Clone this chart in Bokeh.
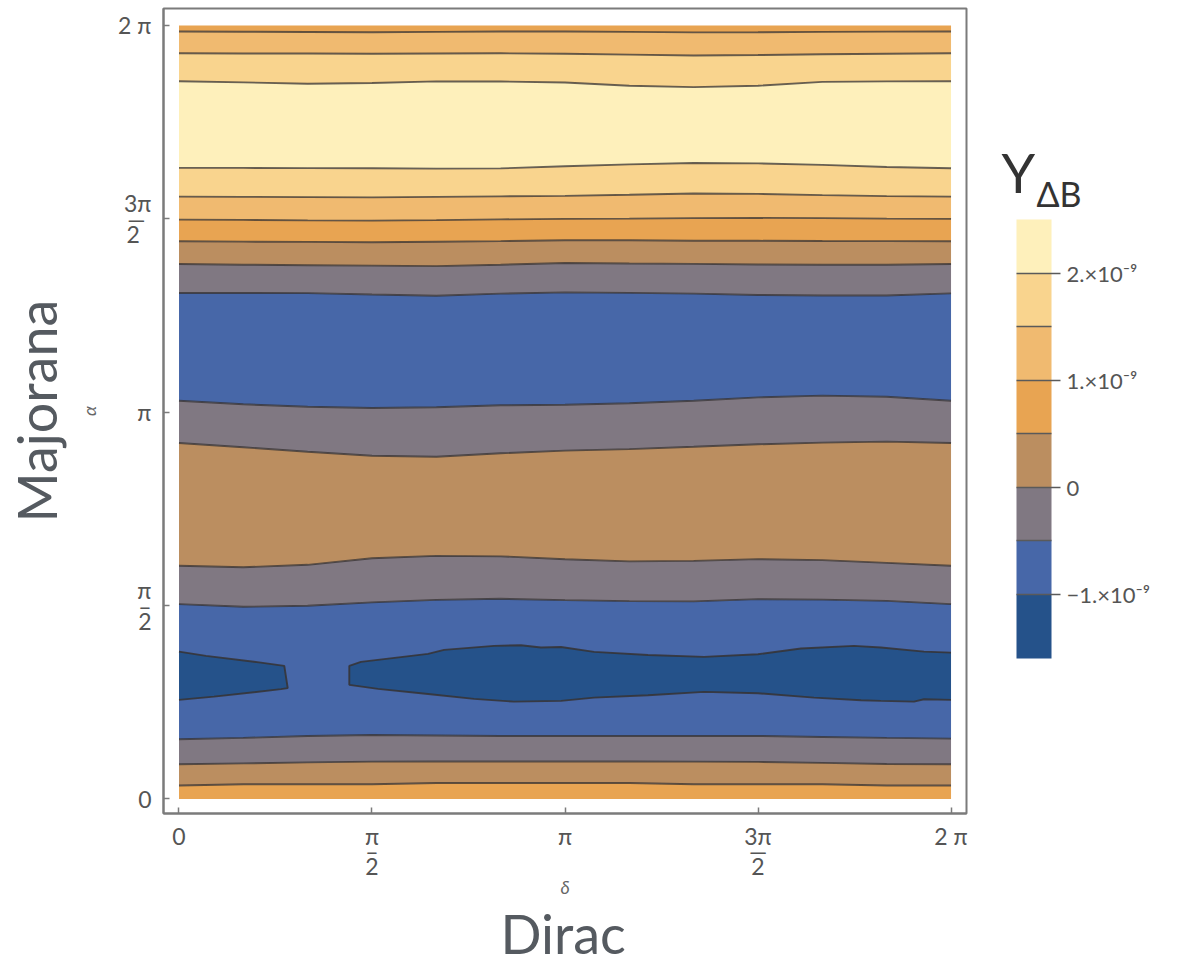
import numpy as np
from bokeh.plotting import figure
from bokeh.models import Range1d, FixedTicker, LinearAxis, ColorBar, LinearColorMapper
from bokeh.embed import file_html
from bokeh.resources import INLINE

PI = np.pi

# ---------------- data ----------------
# Dirac phase delta sample positions (radians)
delta = [k * PI / 6 for k in range(13)]

# contour boundaries alpha(delta) in radians, from bottom to top
c01 = [0.11, 0.12, 0.12, 0.12, 0.13, 0.13, 0.13, 0.13, 0.12, 0.12, 0.12, 0.11, 0.11]
c02 = [0.282, 0.289, 0.297, 0.303, 0.305, 0.305, 0.305, 0.305, 0.303, 0.301, 0.293, 0.284, 0.282]
c03 = [0.485, 0.496, 0.512, 0.520, 0.516, 0.512, 0.512, 0.512, 0.512, 0.512, 0.504, 0.496, 0.490]
c04 = [1.583, 1.561, 1.569, 1.597, 1.617, 1.626, 1.615, 1.607, 1.605, 1.623, 1.619, 1.609, 1.583]
c05 = [1.894, 1.882, 1.902, 1.955, 1.975, 1.971, 1.947, 1.930, 1.934, 1.948, 1.940, 1.918, 1.894]
c06 = [2.891, 2.857, 2.820, 2.788, 2.780, 2.808, 2.830, 2.842, 2.861, 2.881, 2.895, 2.903, 2.891]
c07 = [3.235, 3.206, 3.186, 3.176, 3.182, 3.198, 3.202, 3.215, 3.235, 3.262, 3.276, 3.267, 3.235]
c08 = [4.110, 4.110, 4.109, 4.098, 4.088, 4.105, 4.115, 4.111, 4.105, 4.094, 4.090, 4.090, 4.107]
c09 = [4.346, 4.340, 4.336, 4.332, 4.328, 4.340, 4.354, 4.350, 4.347, 4.342, 4.339, 4.340, 4.346]
c10 = [4.530, 4.527, 4.525, 4.522, 4.526, 4.531, 4.539, 4.538, 4.535, 4.534, 4.532, 4.531, 4.530]
c11 = [4.706, 4.704, 4.700, 4.698, 4.702, 4.708, 4.712, 4.714, 4.718, 4.720, 4.718, 4.714, 4.712]
c12 = [4.893, 4.891, 4.889, 4.887, 4.891, 4.895, 4.899, 4.908, 4.918, 4.915, 4.905, 4.897, 4.893]
c13 = [5.126, 5.126, 5.124, 5.123, 5.120, 5.122, 5.140, 5.155, 5.166, 5.163, 5.151, 5.133, 5.123]
c14 = [5.830, 5.821, 5.810, 5.816, 5.829, 5.828, 5.820, 5.794, 5.782, 5.794, 5.825, 5.829, 5.830]
c15 = [6.058, 6.056, 6.055, 6.053, 6.055, 6.057, 6.053, 6.046, 6.039, 6.043, 6.049, 6.054, 6.058]
c16 = [6.234, 6.232, 6.230, 6.228, 6.231, 6.234, 6.234, 6.231, 6.227, 6.228, 6.231, 6.233, 6.234]

# value (x 1e-9) of each band between successive boundaries, bottom to top
band_values = [0.75, 0.25, -0.25, -0.75, -0.25, 0.25, -0.25, -0.75, -0.25,
               0.25, 0.75, 1.25, 1.75, 2.25, 1.75, 1.25, 0.75]

# islands below -1e-9 (delta, alpha)
island1_delta = [0.0, 0.220, 0.667, 0.857, 0.885, 0.830, 0.285, 0.0]
island1_alpha = [1.197, 1.162, 1.108, 1.081, 0.900, 0.892, 0.831, 0.805]
island2_delta = [6.283, 6.063, 5.713, 5.493, 5.062, 4.712, 4.273, 3.817, 3.378, 3.109,
                 2.946, 2.783, 2.564, 2.157, 2.027, 1.481, 1.386,
                 1.386, 1.620, 2.027, 2.401, 2.726, 3.109, 3.378, 3.817, 4.273, 4.712,
                 5.168, 5.551, 5.713, 5.982, 6.063, 6.283]
island2_alpha = [1.189, 1.197, 1.230, 1.244, 1.222, 1.176, 1.154, 1.170, 1.195, 1.235,
                 1.230, 1.249, 1.244, 1.211, 1.179, 1.114, 1.081,
                 0.927, 0.894, 0.853, 0.813, 0.791, 0.797, 0.823, 0.843, 0.870, 0.859,
                 0.823, 0.802, 0.797, 0.791, 0.810, 0.805]

# colour scale (x 1e-9)
cbar_levels = [-1.6, -1.0, -0.5, 0.0, 0.5, 1.0, 1.5, 2.0, 2.5]
cbar_colors = ["#25528A", "#4767A8", "#807882", "#BB8E60",
               "#E8A452", "#F0BA70", "#F9D48E", "#FEF0BB"]
cbar_ticks = [-1, 0, 1, 2]
cbar_tick_labels = ["\u22121.\u00d710\u207b\u2079", "0", "1.\u00d710\u207b\u2079", "2.\u00d710\u207b\u2079"]
cbar_minor = [-0.5, 0.5, 1.5]

tick_vals = [0, PI / 2, PI, 3 * PI / 2, 2 * PI]
x_tick_labels = ["0", "\u03c0\n\u2013\n2", "\u03c0", "3\u03c0\n\u2014\n2", "2 \u03c0"]
y_tick_labels = ["0", "\u03c0\n\u2013\n2", "\u03c0", "3\u03c0\n\u2014\u00a0\n2\u00a0\u00a0", "2 \u03c0"]

# ---------------- helpers ----------------
def band_color(v):
    for i in range(len(cbar_colors)):
        if cbar_levels[i] <= v < cbar_levels[i + 1]:
            return cbar_colors[i]
    return cbar_colors[-1]

boundaries = [c01, c02, c03, c04, c05, c06, c07, c08, c09, c10, c11, c12, c13, c14, c15, c16]
edges = [[0.0] * len(delta)] + boundaries + [[2 * PI] * len(delta)]

LINE = "#363232"
GREY = "#7b7b7b"
TXT = "#555555"

p = figure(width=1182, height=964,
           x_range=Range1d(-0.126, 6.409), y_range=Range1d(-0.118, 6.421),
           output_backend="svg", toolbar_location=None,
           min_border_left=162, min_border_right=216, min_border_top=8, min_border_bottom=151,
           background_fill_color="white", border_fill_color="white")
p.grid.visible = False
p.outline_line_color = GREY
p.outline_line_width = 2

for i in range(len(edges) - 1):
    p.varea(x=delta, y1=edges[i], y2=edges[i + 1], fill_color=band_color(band_values[i]))

p.patches(xs=[island1_delta, island2_delta], ys=[island1_alpha, island2_alpha],
          fill_color=band_color(-1.3), line_color=None)
p.multi_line(xs=[island1_delta, island2_delta], ys=[island1_alpha, island2_alpha],
             line_color=LINE, line_alpha=0.85, line_width=1.9)
p.multi_line(xs=[delta] * len(boundaries), ys=boundaries,
             line_color=LINE, line_alpha=0.75, line_width=1.9)

# ---------------- axes ----------------
for ax, labels in ((p.xaxis[0], x_tick_labels), (p.yaxis[0], y_tick_labels)):
    ax.ticker = FixedTicker(ticks=tick_vals)
    ax.major_label_overrides = dict(zip(tick_vals, labels))
    ax.major_tick_in = 6
    ax.major_tick_out = 0
    ax.major_tick_line_color = GREY
    ax.major_tick_line_width = 1.5
    ax.minor_tick_line_color = None
    ax.axis_line_color = GREY
    ax.axis_line_width = 2
    ax.major_label_text_font = "Lato"
    ax.major_label_text_font_size = "23px"
    ax.major_label_text_color = TXT
    ax.major_label_text_line_height = 0.55
    ax.axis_label_text_font = "Lato"
    ax.axis_label_text_font_style = "italic"
    ax.axis_label_text_font_size = "18px"
    ax.axis_label_text_color = "#666666"

p.xaxis[0].axis_label = "\u03b4"
p.yaxis[0].axis_label = "\u03b1"
p.yaxis[0].major_label_orientation = "horizontal"
p.xaxis[0].major_label_standoff = 8
p.xaxis[0].axis_label_standoff = -7
p.yaxis[0].major_label_standoff = 12
p.yaxis[0].axis_label_standoff = 15

ya2 = LinearAxis(axis_label="Majorana", ticker=FixedTicker(ticks=[]))
ya2.axis_line_color = None
ya2.major_tick_line_color = None
ya2.minor_tick_line_color = None
ya2.major_tick_in = 0
ya2.major_tick_out = 0
ya2.major_label_standoff = 0
ya2.axis_label_text_font = "Lato"
ya2.axis_label_text_font_style = "normal"
ya2.axis_label_text_font_size = "54px"
ya2.axis_label_text_color = "#555a60"
ya2.axis_label_standoff = 7
p.add_layout(ya2, "left")

# ---------------- colour bar ----------------
nbins = int(round((cbar_levels[-1] - cbar_levels[0]) / 0.1))
steps = [band_color(cbar_levels[0] + 0.1 * (k + 0.5)) for k in range(nbins)]
mapper = LinearColorMapper(palette=steps, low=cbar_levels[0], high=cbar_levels[-1])
cb = ColorBar(color_mapper=mapper, orientation="vertical",
              ticker=FixedTicker(ticks=cbar_ticks, minor_ticks=cbar_minor),
              major_label_overrides=dict(zip(cbar_ticks, cbar_tick_labels)),
              width=35, height=439, location=(853, 155), padding=0,
              major_tick_in=35, major_tick_out=9, major_tick_line_color="#5a5a5a",
              minor_tick_in=35, minor_tick_out=0, minor_tick_line_color="#5a5a5a",
              major_tick_line_width=1.5, minor_tick_line_width=1.5,
              label_standoff=6, major_label_text_font="Lato",
              major_label_text_font_size="22px", major_label_text_color=TXT,
              background_fill_alpha=0, bar_line_color=None, border_line_color=None)
p.add_layout(cb, "center")


def text_only_bar(text, size, loc, color="#333333"):
    return ColorBar(color_mapper=LinearColorMapper(palette=["white"], low=0, high=1),
                    orientation="horizontal",
                    ticker=FixedTicker(ticks=[]), title=text,
                    title_text_font="Lato", title_text_font_size=size,
                    title_text_font_style="normal", title_text_color=color,
                    title_standoff=0, width=2, height=1, padding=0, location=loc,
                    bar_line_color=None, major_tick_line_color=None,
                    minor_tick_line_color=None, background_fill_alpha=0,
                    border_line_color=None)


# colour-bar title Y_{ΔB}
p.add_layout(text_only_bar("Y", "54px", (838, 608)), "center")
p.add_layout(text_only_bar("\u0394B", "34px", (873, 599)), "center")
# large x-axis title under the delta label
p.add_layout(text_only_bar("Dirac", "54px", (337, -153), "#555a60"), "center")

open("out.html", "w").write(file_html(p, INLINE))
